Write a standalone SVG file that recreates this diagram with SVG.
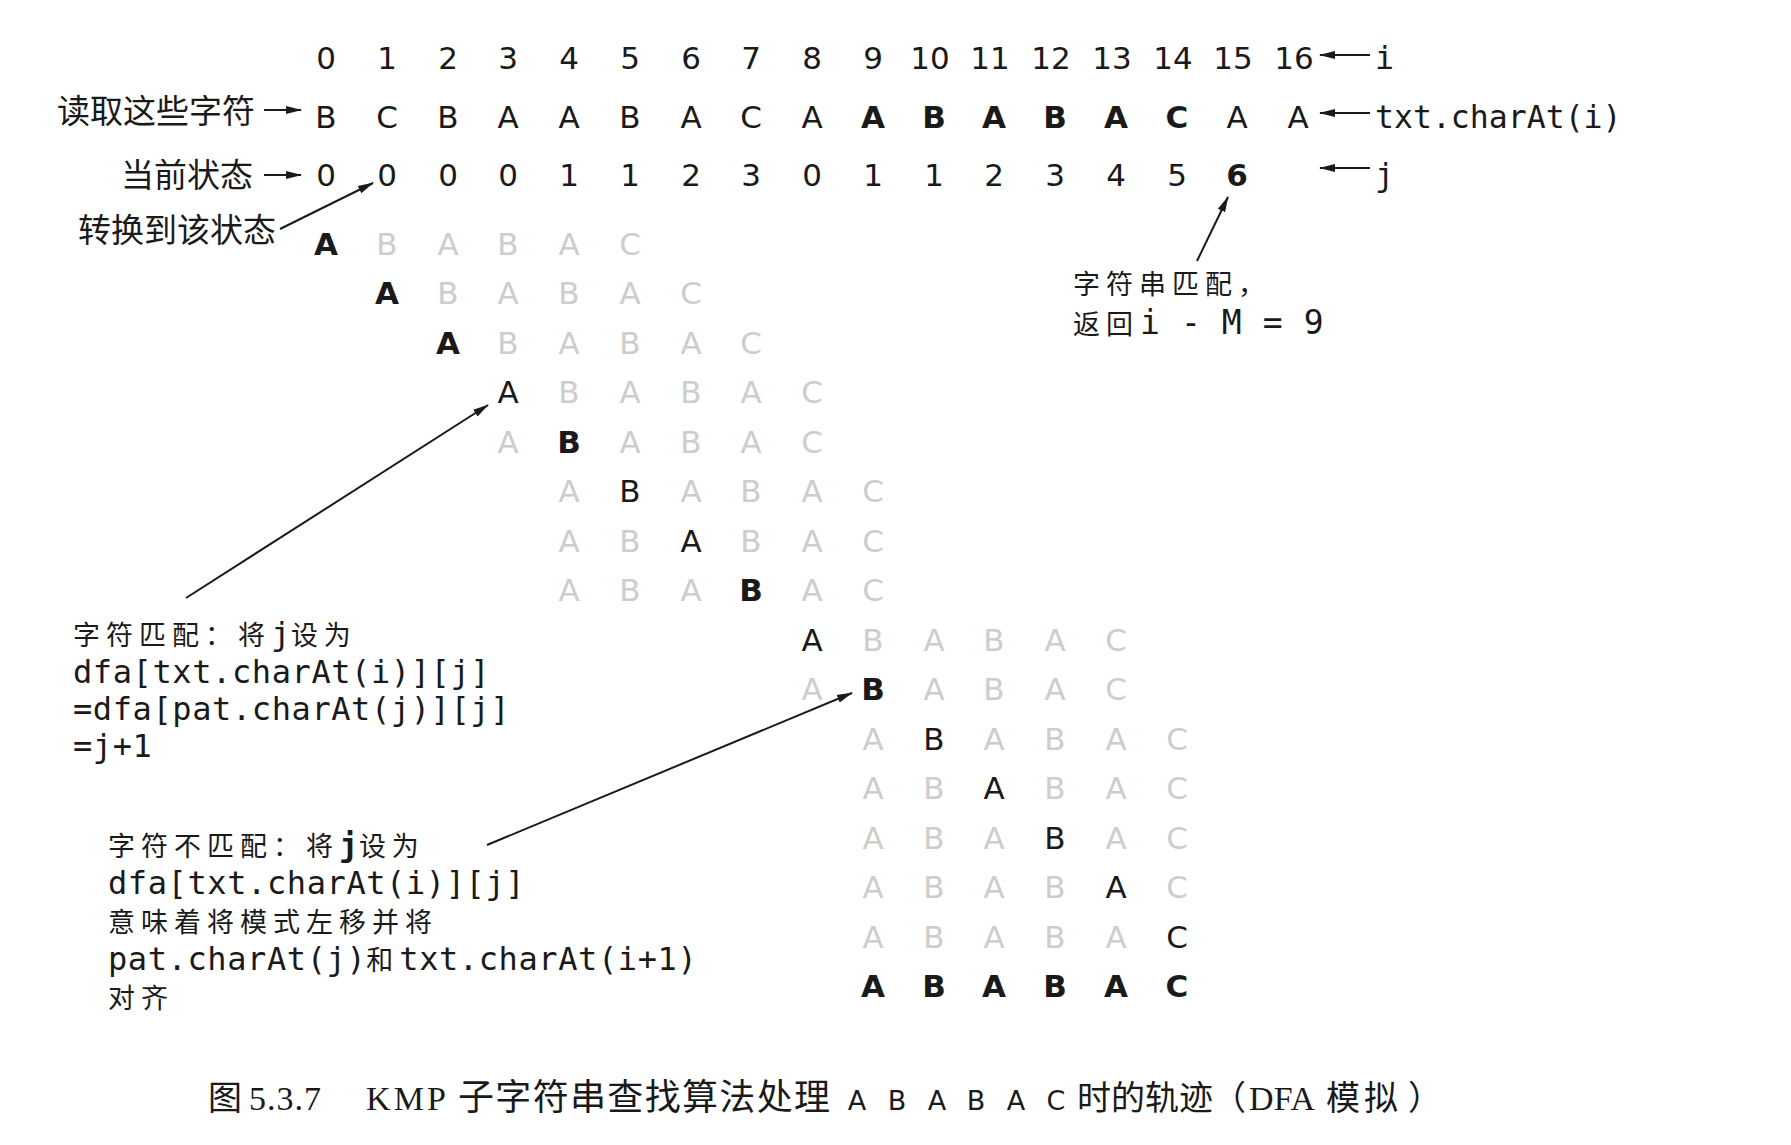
<svg xmlns="http://www.w3.org/2000/svg" width="1791" height="1145" viewBox="0 0 1791 1145">
<defs>
<style>
.t{font-family:"DejaVu Sans","Liberation Sans",sans-serif;font-size:31px;text-anchor:middle;fill:#1a1a1a}
.b{font-weight:bold}
.g{fill:#cdcdcd}
.cjk{font-family:"Noto Sans CJK SC","Noto Sans CJK JP",sans-serif;font-size:33px;fill:#1a1a1a}
.nc{font-family:"Noto Sans CJK SC","Noto Sans CJK JP",sans-serif;font-size:27px;letter-spacing:6px;fill:#1a1a1a}
.mono{font-family:"DejaVu Sans Mono","Liberation Mono",monospace;font-size:32px;letter-spacing:0.6px;fill:#1a1a1a}
.lbl{font-family:"DejaVu Sans Mono","Liberation Mono",monospace;font-size:31.5px;fill:#1a1a1a}
.ser{font-family:"Liberation Serif","Noto Sans CJK SC",serif;font-size:34px;fill:#1a1a1a}
.cc{font-family:"Noto Sans CJK SC","Noto Sans CJK JP",sans-serif;font-size:34px;fill:#1a1a1a}
.cs{font-family:"DejaVu Sans","Liberation Sans",sans-serif;font-size:27px;fill:#1a1a1a;text-anchor:middle}
.ln{stroke:#1a1a1a;stroke-width:2;fill:none;marker-end:url(#ah)}
</style>
<marker id="ah" viewBox="0 0 16 10" refX="15" refY="5" markerWidth="16" markerHeight="10" markerUnits="userSpaceOnUse" orient="auto">
<path d="M0,1 L16,5 L0,9 z" fill="#1a1a1a"/>
</marker>
</defs>
<rect width="1791" height="1145" fill="#ffffff"/>

<g id="row-i">
<text class="t" y="69" x="326 387 448 508 569 630 691 751 812 873">0123456789</text>
<text class="t" y="69"><tspan x="930">10</tspan><tspan x="990">11</tspan><tspan x="1051">12</tspan><tspan x="1112">13</tspan><tspan x="1173">14</tspan><tspan x="1233">15</tspan><tspan x="1294">16</tspan></text>
<text class="lbl" x="1375" y="69">i</text>
</g>

<g id="row-txt">
<text class="t" y="128"><tspan x="326 387 448 508 569 630 691 751 812">BCBAABACA</tspan><tspan class="b" x="873 934 994 1055 1116 1177">ABABAC</tspan><tspan x="1237 1298">AA</tspan></text>
<text class="lbl" x="1375" y="128">txt.charAt(i)</text>
</g>

<g id="row-j">
<text class="t" y="186"><tspan x="326 387 448 508 569 630 691 751 812 873 934 994 1055 1116 1177">000011230112345</tspan><tspan class="b" x="1237">6</tspan></text>
<text class="lbl" x="1375" y="186">j</text>
</g>

<g id="labels-left">
<text class="cjk" x="57" y="123">读取这些字符</text>
<text class="cjk" x="121" y="187">当前状态</text>
<text class="cjk" x="78" y="242">转换到该状态</text>
</g>

<g id="trace">
<text class="t" y="254.5"><tspan class="b" x="326">A</tspan><tspan class="g" x="387 448 508 569 630">BABAC</tspan></text>
<text class="t" y="304"><tspan class="b" x="387">A</tspan><tspan class="g" x="448 508 569 630 691">BABAC</tspan></text>
<text class="t" y="353.5"><tspan class="b" x="448">A</tspan><tspan class="g" x="508 569 630 691 751">BABAC</tspan></text>
<text class="t" y="403"><tspan x="508">A</tspan><tspan class="g" x="569 630 691 751 812">BABAC</tspan></text>
<text class="t" y="452.5"><tspan class="g" x="508">A</tspan><tspan class="b" x="569">B</tspan><tspan class="g" x="630 691 751 812">ABAC</tspan></text>
<text class="t" y="502"><tspan class="g" x="569">A</tspan><tspan x="630">B</tspan><tspan class="g" x="691 751 812 873">ABAC</tspan></text>
<text class="t" y="551.5"><tspan class="g" x="569 630">AB</tspan><tspan x="691">A</tspan><tspan class="g" x="751 812 873">BAC</tspan></text>
<text class="t" y="601"><tspan class="g" x="569 630 691">ABA</tspan><tspan class="b" x="751">B</tspan><tspan class="g" x="812 873">AC</tspan></text>
<text class="t" y="650.5"><tspan x="812">A</tspan><tspan class="g" x="873 934 994 1055 1116">BABAC</tspan></text>
<text class="t" y="700"><tspan class="g" x="812">A</tspan><tspan class="b" x="873">B</tspan><tspan class="g" x="934 994 1055 1116">ABAC</tspan></text>
<text class="t" y="749.5"><tspan class="g" x="873">A</tspan><tspan x="934">B</tspan><tspan class="g" x="994 1055 1116 1177">ABAC</tspan></text>
<text class="t" y="799"><tspan class="g" x="873 934">AB</tspan><tspan x="994">A</tspan><tspan class="g" x="1055 1116 1177">BAC</tspan></text>
<text class="t" y="848.5"><tspan class="g" x="873 934 994">ABA</tspan><tspan x="1055">B</tspan><tspan class="g" x="1116 1177">AC</tspan></text>
<text class="t" y="898"><tspan class="g" x="873 934 994 1055">ABAB</tspan><tspan x="1116">A</tspan><tspan class="g" x="1177">C</tspan></text>
<text class="t" y="947.5"><tspan class="g" x="873 934 994 1055 1116">ABABA</tspan><tspan x="1177">C</tspan></text>
<text class="t b" y="997" x="873 934 994 1055 1116 1177">ABABAC</text>
</g>

<g id="note-match-found">
<text class="nc" x="1073" y="294">字符串匹配，</text>
<text class="nc" x="1073" y="334">返回<tspan class="mono" x="1140" style="font-size:33px">i - M = 9</tspan></text>
</g>

<g id="note-match">
<text class="nc" x="73" y="645">字符匹配：将<tspan class="mono">j</tspan>设为</text>
<text class="mono" x="73" y="683">dfa[txt.charAt(i)][j]</text>
<text class="mono" x="73" y="720">=dfa[pat.charAt(j)][j]</text>
<text class="mono" x="73" y="757">=j+1</text>
</g>

<g id="note-mismatch">
<text class="nc" x="108" y="856">字符不匹配：将<tspan class="mono" font-weight="bold">j</tspan>设为</text>
<text class="mono" x="108" y="894">dfa[txt.charAt(i)][j]</text>
<text class="nc" x="108" y="932">意味着将模式左移并将</text>
<text class="mono" x="108" y="970">pat.charAt(j)<tspan class="nc">和</tspan>txt.charAt(i+1)</text>
<text class="nc" x="108" y="1008">对齐</text>
</g>

<g id="connectors">
<line class="ln" x1="264" y1="110" x2="301" y2="110"/>
<line class="ln" x1="264" y1="175" x2="301" y2="175"/>
<line class="ln" x1="280" y1="229" x2="373" y2="183"/>
<line class="ln" x1="1370" y1="55" x2="1320" y2="55"/>
<line class="ln" x1="1370" y1="113" x2="1320" y2="113"/>
<line class="ln" x1="1370" y1="168" x2="1320" y2="168"/>
<line class="ln" x1="1197" y1="261" x2="1228" y2="197"/>
<line class="ln" x1="186" y1="598" x2="488" y2="405"/>
<line class="ln" x1="487" y1="845" x2="852" y2="693"/>
</g>

<g id="caption">
<text class="cc" x="208" y="1110">图</text>
<text class="ser" x="249" y="1110" textLength="72" lengthAdjust="spacing">5.3.7</text>
<text class="ser" x="366" y="1110" textLength="80" lengthAdjust="spacing">KMP</text>
<text class="cc" x="458" y="1110" textLength="372" lengthAdjust="spacing" style="font-size:36px">子字符串查找算法处理</text>
<text class="cs" y="1110" x="857 897 937 976 1016 1056">ABABAC</text>
<text class="cc" x="1077" y="1110" textLength="136" lengthAdjust="spacing">时的轨迹</text>
<text class="cc" x="1212" y="1110">（</text>
<text class="ser" x="1249" y="1110" textLength="66" lengthAdjust="spacing">DFA</text>
<text class="cc" x="1326" y="1110" textLength="72" lengthAdjust="spacing">模拟</text>
<text class="cc" x="1408" y="1110">）</text>
</g>
</svg>
